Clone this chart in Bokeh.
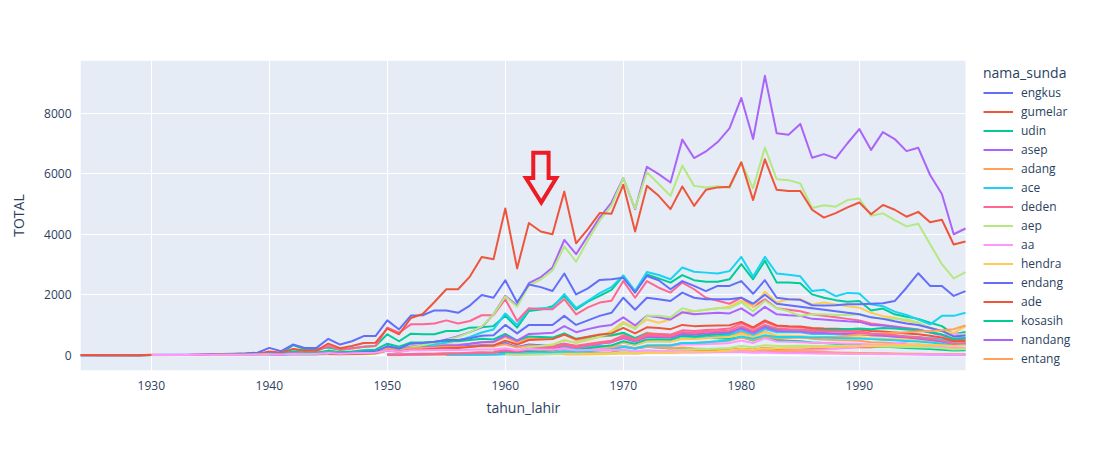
from bokeh.plotting import figure
from bokeh.models import (Range1d, Legend, LegendItem, Span, PolyAnnotation, FixedTicker,
                          BoxAnnotation, Title)
from bokeh.embed import file_html
from bokeh.resources import INLINE

# ---------------- data ----------------
FIRST_YEAR = 1924
LAST_YEAR = 1999

asep = [0, 0, 0, 2, 0, 0,
        2, 3, 4, 5, 8, 10, 12, 15, 20, 30,
        35, 25, 50, 40, 45, 60, 50, 70, 80, 100,
        220, 180, 280, 330, 410, 520, 630, 760, 920, 1350,
        1960, 1640, 2380, 2580, 2900, 3810, 3340, 3950, 4550, 5050,
        5860, 4830, 6230, 5990, 5710, 7130, 6520, 6740, 7050, 7500,
        8510, 7150, 9240, 7340, 7290, 7650, 6530, 6650, 6510, 7010,
        7480, 6790, 7380, 7150, 6750, 6860, 5960, 5330, 4000, 4190]

aep = [0, 0, 0, 0, 0, 0,
       0, 0, 1, 2, 3, 5, 5, 8, 10, 12,
       10, 8, 15, 12, 15, 20, 18, 25, 30, 40,
       150, 120, 250, 330, 420, 500, 600, 760, 950, 1350,
       1940, 1600, 2300, 2500, 2800, 3600, 3090, 3800, 4450, 4950,
       5860, 4850, 6050, 5660, 5270, 6270, 5600, 5550, 5590, 5530,
       6380, 5520, 6870, 5820, 5790, 5680, 4870, 4960, 4910, 5130,
       5180, 4610, 4690, 4470, 4260, 4350, 3670, 3010, 2540, 2750]

ade = [2, 3, 0, 0, 0, 0,
       10, 5, 5, 8, 10, 15, 20, 25, 30, 40,
       120, 80, 200, 150, 150, 380, 230, 300, 400, 410,
       880, 690, 1230, 1360, 1760, 2180, 2180, 2600, 3250, 3170,
       4850, 2870, 4370, 4090, 4000, 5410, 3700, 4170, 4700, 4680,
       5640, 4090, 5600, 5270, 4830, 5580, 4940, 5470, 5550, 5570,
       6380, 5130, 6480, 5470, 5430, 5430, 4810, 4550, 4700, 4890,
       5050, 4660, 4970, 4810, 4580, 4740, 4400, 4480, 3660, 3760]

endang = [0, 0, 0, 0, 0, 0,
          5, 10, 10, 15, 20, 30, 40, 50, 60, 80,
          240, 130, 350, 240, 240, 540, 350, 460, 630, 630,
          1150, 850, 1310, 1320, 1480, 1480, 1400, 1640, 1990, 1900,
          2480, 1740, 2340, 2250, 2120, 2700, 2010, 2210, 2490, 2510,
          2560, 2080, 2620, 2480, 2180, 2450, 2290, 2120, 2290, 2290,
          2450, 2030, 2480, 1900, 1850, 1830, 1650, 1640, 1650, 1680,
          1680, 1700, 1720, 1790, 2230, 2710, 2290, 2290, 1960, 2120]

ace = [0, 0, 0, 0, 0, 0,
       3, 2, 2, 3, 5, 5, 8, 10, 12, 15,
       20, 15, 40, 30, 30, 60, 40, 60, 80, 90,
       200, 150, 260, 300, 350, 420, 480, 600, 750, 850,
       1380, 1000, 1520, 1550, 1570, 2020, 1560, 1800, 2050, 2250,
       2640, 2130, 2750, 2650, 2510, 2900, 2760, 2730, 2700, 2780,
       3250, 2600, 3250, 2700, 2660, 2610, 2120, 2160, 1950, 2060,
       2040, 1680, 1620, 1440, 1330, 1180, 1020, 1300, 1300, 1400]

udin = [0, 0, 0, 0, 0, 0,
        2, 3, 4, 5, 8, 10, 12, 15, 20, 25,
        80, 40, 330, 200, 200, 250, 180, 230, 280, 300,
        690, 460, 710, 690, 690, 800, 800, 910, 920, 960,
        1300, 910, 1460, 1510, 1620, 1960, 1510, 1770, 1960, 2160,
        2620, 2070, 2670, 2540, 2400, 2650, 2480, 2430, 2430, 2510,
        3010, 2510, 3120, 2400, 2400, 2380, 2010, 1900, 1820, 1770,
        1790, 1480, 1540, 1350, 1270, 1200, 1070, 960, 690, 770]

deden = [0, 0, 0, 0, 0, 0,
         3, 3, 5, 5, 8, 10, 12, 15, 20, 30,
         100, 60, 200, 120, 130, 300, 180, 220, 280, 300,
         910, 740, 1020, 1020, 1050, 1150, 1050, 1130, 1320, 1320,
         1850, 1130, 1550, 1520, 1520, 1850, 1350, 1580, 1740, 1800,
         2450, 1900, 2450, 2230, 2070, 2400, 2180, 1900, 1800, 1700,
         1900, 1600, 1850, 1550, 1500, 1450, 1350, 1300, 1250, 1200,
         1150, 1050, 1000, 950, 900, 850, 750, 650, 500, 550]

hendra = [0, 0, 10, 10, 20, 30, 40, 60, 80, 100,
          200, 150, 250, 300, 350, 500, 400, 500, 600, 800,
          1100, 900, 1180, 1070, 1180, 1400, 1450, 1500, 1550, 1600,
          1800, 1600, 2100, 1740, 1850, 1850, 1680, 1740, 1680, 1620,
          1570, 1400, 1290, 1240, 1130, 1070, 910, 800, 740, 960]

engkus = [10, 15, 20, 25, 30,
          60, 40, 90, 70, 70, 120, 80, 100, 130, 140,
          250, 180, 280, 270, 290, 300, 280, 310, 330, 320,
          400, 270, 350, 330, 310, 380, 270, 290, 300, 290,
          300, 220, 280, 250, 220, 240, 200, 180, 170, 160,
          170, 130, 160, 120, 110, 100, 90, 80, 70, 60,
          60, 50, 45, 40, 35, 30, 25, 20, 15, 15]

gumelar = [10, 8, 15, 15, 20, 25, 25, 30, 40, 40,
           60, 40, 60, 60, 65, 80, 60, 70, 80, 90,
           120, 90, 130, 130, 120, 150, 140, 150, 160, 170,
           210, 180, 240, 200, 210, 220, 210, 220, 230, 250,
           270, 260, 290, 300, 310, 340, 330, 360, 330, 380]

adang = [5, 8, 10, 12, 15,
         30, 20, 60, 40, 40, 90, 60, 70, 90, 100,
         220, 160, 280, 290, 320, 350, 340, 380, 430, 420,
         600, 420, 560, 550, 540, 680, 500, 560, 620, 640,
         720, 560, 740, 700, 660, 760, 700, 680, 670, 660,
         760, 620, 780, 640, 620, 600, 540, 520, 500, 490,
         480, 430, 420, 390, 360, 340, 300, 270, 220, 240]

aa = [5, 5, 8, 10, 12,
      20, 15, 25, 25, 30, 40, 30, 40, 45, 50,
      70, 55, 80, 80, 75, 90, 90, 95, 100, 110,
      140, 120, 160, 140, 150, 160, 170, 190, 210, 240,
      280, 300, 340, 380, 440, 500, 560, 640, 700, 680]

kosasih = [10, 15, 20, 20, 30,
           60, 40, 120, 80, 80, 150, 100, 120, 160, 180,
           380, 280, 420, 420, 440, 480, 460, 500, 540, 520,
           700, 480, 620, 600, 580, 720, 540, 600, 640, 660,
           740, 560, 720, 660, 620, 700, 620, 580, 560, 540,
           600, 480, 620, 500, 480, 460, 420, 400, 380, 360,
           340, 300, 290, 260, 240, 220, 200, 180, 150, 160]

nandang = [20, 15, 40, 30, 30, 60, 40, 50, 70, 80,
           180, 130, 230, 250, 280, 320, 330, 380, 430, 440,
           650, 480, 700, 720, 740, 960, 760, 860, 950, 1000,
           1250, 980, 1300, 1250, 1180, 1420, 1350, 1380, 1400, 1380,
           1550, 1300, 1600, 1350, 1320, 1300, 1200, 1180, 1150, 1120,
           1100, 1000, 980, 930, 880, 840, 760, 680, 540, 560]

entang = [5, 10, 10, 15, 20,
          40, 25, 70, 50, 50, 100, 70, 80, 100, 110,
          200, 150, 240, 240, 250, 270, 260, 280, 300, 290,
          360, 250, 320, 300, 290, 350, 260, 280, 290, 280,
          300, 220, 280, 250, 230, 250, 220, 200, 190, 180,
          190, 150, 180, 140, 130, 120, 110, 100, 90, 80,
          75, 65, 60, 55, 50, 45, 40, 35, 30, 30]

dadan = [20, 15, 30, 35, 40, 50, 55, 65, 80, 90,
         150, 110, 170, 180, 190, 260, 210, 250, 290, 320,
         420, 340, 460, 470, 460, 560, 560, 590, 620, 660,
         820, 680, 860, 760, 760, 760, 700, 700, 690, 690,
         700, 660, 660, 640, 620, 600, 560, 520, 440, 460]

dedi = [30, 20, 40, 45, 50, 60, 65, 80, 100, 110,
        200, 150, 240, 260, 280, 380, 310, 370, 430, 480,
        650, 520, 700, 700, 680, 820, 800, 830, 850, 880,
        1050, 880, 1100, 960, 940, 930, 860, 850, 820, 800,
        780, 720, 690, 650, 600, 560, 500, 440, 350, 370]

yayan = [20, 15, 30, 35, 40, 50, 60, 70, 90, 100,
         200, 150, 260, 300, 340, 480, 420, 520, 620, 720,
         1050, 860, 1300, 1300, 1250, 1550, 1450, 1500, 1550, 1550,
         1750, 1450, 1800, 1550, 1450, 1300, 1350, 1350, 1330, 1330,
         1350, 1250, 1200, 1200, 1180, 1080, 900, 800, 600, 700]

ayi = [20, 15, 25, 30, 35, 40, 45, 50, 60, 65,
       110, 80, 120, 130, 140, 190, 150, 180, 200, 220,
       300, 240, 320, 320, 300, 360, 350, 370, 380, 400,
       480, 400, 560, 450, 440, 430, 410, 400, 390, 380,
       380, 350, 340, 330, 320, 310, 290, 270, 230, 240]

yana = [10, 8, 15, 20, 25, 30, 35, 40, 50, 55,
        100, 70, 120, 130, 150, 220, 170, 220, 260, 300,
        420, 340, 460, 460, 450, 540, 530, 560, 580, 600,
        700, 590, 760, 640, 640, 630, 600, 600, 590, 590,
        590, 560, 550, 530, 510, 490, 450, 410, 340, 360]

dadang = [30, 20, 60, 40, 40, 90, 60, 80, 100, 110,
          300, 220, 380, 400, 440, 500, 500, 560, 640, 660,
          1000, 720, 1000, 1000, 1000, 1300, 1000, 1150, 1300, 1400,
          1900, 1500, 1900, 1850, 1790, 2070, 1900, 1850, 1850, 1850,
          1900, 1700, 2000, 1700, 1650, 1600, 1550, 1500, 1450, 1400,
          1350, 1250, 1200, 1120, 1050, 1000, 900, 800, 620, 650]

ujang = [40, 30, 40, 50, 60,
         150, 110, 180, 190, 210, 240, 240, 270, 310, 320,
         480, 350, 500, 520, 530, 680, 530, 610, 680, 720,
         900, 720, 920, 900, 860, 1000, 960, 970, 980, 990,
         1100, 920, 1150, 980, 960, 950, 900, 880, 870, 860,
         850, 800, 780, 750, 720, 690, 640, 580, 460, 480]

cecep = [20, 25, 30, 40, 45,
         90, 70, 120, 130, 150, 220, 180, 230, 280, 320,
         460, 380, 520, 530, 520, 640, 620, 660, 690, 720,
         900, 760, 960, 840, 840, 840, 800, 820, 840, 860,
         880, 860, 900, 880, 850, 820, 760, 680, 540, 560]

acep = [15, 10, 20, 25, 30, 40, 45, 55, 70, 80,
        150, 110, 180, 200, 220, 320, 260, 320, 380, 430,
        560, 450, 600, 600, 580, 700, 680, 720, 740, 760,
        880, 740, 920, 800, 790, 780, 740, 730, 720, 710,
        700, 660, 640, 610, 580, 550, 500, 450, 360, 380]

jajang = [10, 10, 15, 20, 25,
          50, 40, 70, 80, 90, 130, 110, 140, 170, 200,
          280, 230, 320, 330, 330, 400, 400, 430, 450, 480,
          580, 500, 620, 560, 570, 580, 570, 590, 610, 640,
          680, 690, 720, 740, 760, 780, 800, 820, 860, 980]

iwan = [10, 10, 15, 15, 20,
        40, 30, 60, 70, 80, 120, 100, 130, 160, 190,
        270, 220, 310, 320, 320, 400, 400, 430, 460, 500,
        620, 540, 660, 600, 600, 600, 580, 580, 570, 560,
        550, 530, 510, 490, 470, 450, 420, 380, 320, 340]

dede = [20, 15, 30, 35, 40, 50, 55, 65, 80, 90,
        170, 120, 200, 220, 240, 330, 270, 330, 390, 430,
        600, 480, 640, 640, 620, 760, 740, 770, 790, 810,
        960, 800, 1000, 880, 860, 850, 800, 790, 780, 770,
        760, 710, 690, 660, 620, 590, 540, 480, 380, 400]

wawan = [20, 15, 25, 30, 35, 50, 45, 55, 65, 75,
         110, 90, 130, 140, 150, 180, 190, 200, 220, 240,
         300, 260, 330, 300, 300, 310, 300, 300, 300, 300,
         300, 290, 290, 280, 270, 260, 250, 230, 190, 200]

ikin = [5, 5, 8, 8, 10, 10, 12, 15, 15, 20,
        30, 20, 50, 40, 40, 70, 50, 60, 70, 80,
        150, 110, 160, 160, 170, 180, 170, 180, 190, 190,
        230, 160, 200, 190, 180, 220, 160, 170, 180, 170,
        180, 130, 160, 140, 130, 140, 120, 110, 100, 100,
        100, 80, 90, 70, 65, 60, 55, 50, 45, 40,
        40, 35, 30, 30, 25, 25, 20, 20, 15, 15]

yudi = [20, 20, 25, 30, 35,
        60, 50, 70, 80, 80, 100, 110, 120, 130, 150,
        200, 180, 230, 220, 230, 240, 250, 260, 270, 290,
        300, 310, 320, 330, 340, 350, 340, 330, 300, 320]

# (name, first year, values) in the order of the original traces
SERIES = [
    ("engkus", 1935, engkus), ("gumelar", 1950, gumelar), ("udin", 1924, udin),
    ("asep", 1924, asep), ("adang", 1935, adang), ("ace", 1924, ace),
    ("deden", 1924, deden), ("aep", 1924, aep), ("aa", 1955, aa),
    ("hendra", 1950, hendra), ("endang", 1924, endang), ("ade", 1924, ade),
    ("kosasih", 1935, kosasih), ("nandang", 1940, nandang), ("entang", 1935, entang),
    ("dadan", 1950, dadan), ("dedi", 1950, dedi), ("yayan", 1950, yayan),
    ("ayi", 1950, ayi), ("yana", 1950, yana), ("dadang", 1940, dadang),
    ("ujang", 1945, ujang), ("cecep", 1955, cecep), ("acep", 1950, acep),
    ("jajang", 1955, jajang), ("iwan", 1955, iwan), ("dede", 1950, dede),
    ("wawan", 1960, wawan), ("ikin", 1930, ikin), ("yudi", 1965, yudi),
]
LEGEND_COUNT = 15

X_TICKS = [1930, 1940, 1950, 1960, 1970, 1980, 1990]
Y_TICKS = [0, 2000, 4000, 6000, 8000]
Y_MIN, Y_MAX = -508, 9748

# red arrow annotation (data units)
ARROW_X = [1962.37, 1963.67, 1963.67, 1964.32, 1963.05, 1961.75, 1962.37]
ARROW_Y = [6698, 6698, 5859, 5859, 5050, 5859, 5859]

COLORS = ["#636efa", "#EF553B", "#00cc96", "#ab63fa", "#FFA15A",
          "#19d3f3", "#FF6692", "#B6E880", "#FF97FF", "#FECB52"]

FONT = "Open Sans"
TXT = "#2a3f5f"

# layout: plot area spans pixels 80..965, the legend sits in the white strip to its right
PLOT_LEFT, PLOT_RIGHT, FIG_W = 80, 965, 1112
px_per_year = (PLOT_RIGHT - PLOT_LEFT) / (LAST_YEAR - FIRST_YEAR)
x_end = LAST_YEAR + (FIG_W - PLOT_RIGHT) / px_per_year

p = figure(width=FIG_W, height=450, output_backend="svg", toolbar_location=None, tools="",
           x_range=Range1d(FIRST_YEAR, x_end), y_range=Range1d(Y_MIN, Y_MAX),
           min_border_left=PLOT_LEFT, min_border_right=0, min_border_top=60, min_border_bottom=80)
p.background_fill_color = "white"
p.border_fill_color = "white"
p.outline_line_color = None

# plot-area background limited to the data range
p.add_layout(BoxAnnotation(left=FIRST_YEAR, right=LAST_YEAR, fill_color="#E5ECF6", fill_alpha=1.0,
                           line_color=None, level="image"))

items = []
for i, (name, start, vals) in enumerate(SERIES):
    xs = [start + k for k in range(len(vals))]
    r = p.line(xs, vals, line_color=COLORS[i % len(COLORS)], line_width=2, line_join="round")
    if i < LEGEND_COUNT:
        items.append(LegendItem(label=name, renderers=[r]))

p.add_layout(Span(location=0, dimension="width", line_color="white", line_width=2, level="underlay"))

p.add_layout(PolyAnnotation(xs=ARROW_X, ys=ARROW_Y, fill_alpha=0, line_color="#ED1C24",
                            line_alpha=1.0, line_width=4, line_join="miter"))

for ax in (p.xaxis[0], p.yaxis[0]):
    ax.axis_line_color = None
    ax.major_tick_line_color = None
    ax.minor_tick_line_color = None
    ax.major_label_text_font = FONT
    ax.major_label_text_font_size = "12px"
    ax.major_label_text_color = TXT
    ax.axis_label_text_font = FONT
    ax.axis_label_text_font_size = "14px"
    ax.axis_label_text_color = TXT
    ax.axis_label_text_font_style = "normal"

p.xaxis.ticker = FixedTicker(ticks=X_TICKS)
p.yaxis.ticker = FixedTicker(ticks=Y_TICKS)
p.yaxis.axis_label = "TOTAL"
p.xaxis.major_label_standoff = 4
p.yaxis.major_label_standoff = 3
p.yaxis.axis_label_standoff = 13

# x-axis title, centred under the plot area (not under the wider frame)
x_title = Title(text="tahun_lahir", align="left", offset=406, standoff=7,
                text_font=FONT, text_font_size="14px", text_font_style="normal",
                text_color=TXT)
p.add_layout(x_title, "below")

p.xgrid.grid_line_color = "white"
p.ygrid.grid_line_color = "white"
p.xgrid.grid_line_width = 1
p.ygrid.grid_line_width = 1

legend = Legend(items=items, location=(903, 2), title="nama_sunda")
legend.title_text_font = FONT
legend.title_text_font_size = "14px"
legend.title_text_color = TXT
legend.title_text_font_style = "normal"
legend.title_standoff = 1
legend.label_text_font = FONT
legend.label_text_font_size = "12px"
legend.label_text_color = TXT
legend.glyph_width = 30
legend.glyph_height = 19
legend.label_height = 19
legend.label_standoff = 8
legend.spacing = 0
legend.padding = 5
legend.margin = 0
legend.border_line_color = None
legend.background_fill_alpha = 0
p.add_layout(legend, "center")

open("out.html", "w").write(file_html(p, INLINE))
